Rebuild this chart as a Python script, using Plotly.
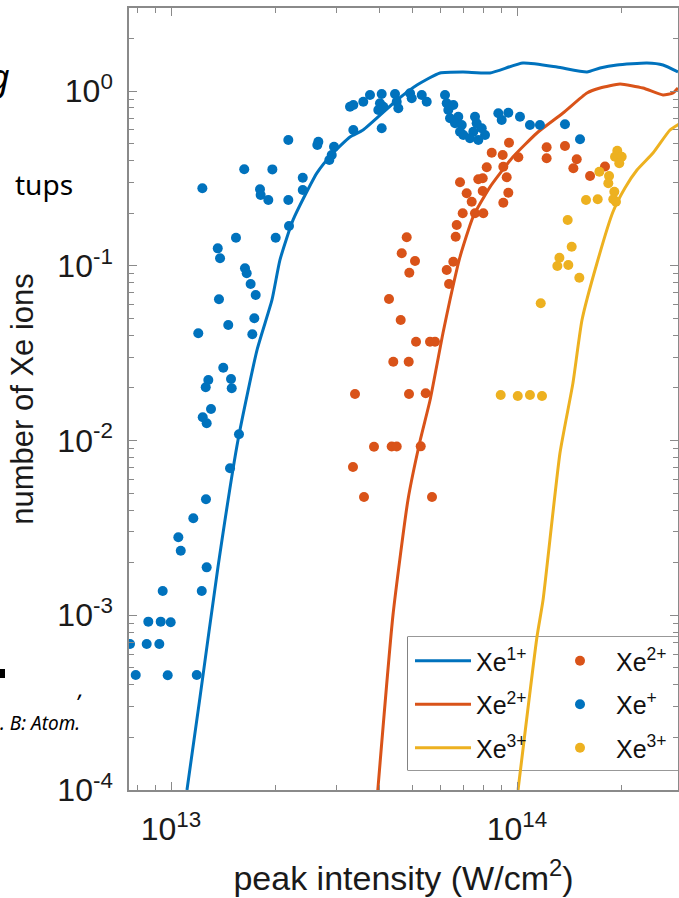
import plotly.graph_objects as go

# ---------------- data (intensity in units of 1e13 W/cm^2) ----------------
blue_line_I = [1.112, 1.213, 1.367, 1.562, 1.773, 1.958, 2.065, 2.253, 2.642, 2.94, 3.29, 3.59,
               4.50, 5.14, 5.99, 6.98, 8.35, 10.4, 13.05, 15.93, 17.38, 19.45, 23.75, 26.42, 29.19]
blue_line_N = [1.0e-4, 3.40e-4, 1.89e-3, 1.007e-2, 3.30e-2, 6.37e-2, 0.108, 0.183, 0.340, 0.442, 0.546, 0.598,
               0.888, 1.082, 1.268, 1.285, 1.268, 1.446, 1.372, 1.285, 1.354, 1.409, 1.446, 1.409, 1.285]

orange_line_I = [3.96, 4.38, 4.84, 5.245, 5.61, 6.11, 6.40, 6.84, 7.46, 8.35, 9.73, 11.42, 13.58,
                 15.93, 17.38, 19.85, 23.13, 26.42, 28.24, 29.19]
orange_line_N = [1.0e-4, 1.0e-3, 4.57e-3, 9.93e-3, 1.71e-2, 4.12e-2, 6.37e-2, 0.112, 0.190, 0.282, 0.419,
                 0.575, 0.748, 0.974, 1.040, 1.096, 1.040, 0.948, 0.974, 1.040]

yellow_line_I = [10.07, 11.42, 11.89, 13.31, 14.51, 15.41, 17.03, 18.93, 20.51, 22.22, 24.72, 27.68, 29.4]
yellow_line_N = [1.0e-4, 7.51e-4, 1.22e-3, 8.48e-3, 2.13e-2, 4.89e-2, 0.1037, 0.203, 0.2786, 0.353,
                 0.4417, 0.598, 0.647]

blue_pts_I = [1.232, 1.628, 1.963, 1.808, 1.816, 1.911, 2.183, 2.183, 2.403, 2.403, 2.193, 2.007, 1.541,
              1.365, 1.386, 1.636, 1.655, 1.699, 1.757, 1.376, 2.666, 2.648, 2.959, 2.914, 2.868, 3.291,
              3.365, 1.741, 1.464, 1.199, 1.718, 1.416, 1.282, 1.260, 1.491, 1.498, 1.305, 1.235, 1.268,
              1.572, 1.481, 1.262, 1.160, 1.050, 1.067, 1.268, 1.227, 0.9463, 0.8598, 0.9338, 0.998,
              0.7613, 0.8507, 0.9252, 0.7907, 0.9783, 1.187, 3.365, 3.759, 3.595, 4.064, 4.018, 4.108,
              3.973, 4.441, 4.491, 4.539, 4.907, 4.963, 5.305, 5.483, 4.064, 6.193, 6.264, 6.331, 6.545,
              6.766, 6.404, 6.620, 6.922, 7.561, 7.646, 7.907, 8.083, 7.476, 6.995, 6.844, 7.314, 7.729,
              8.831, 9.438, 9.032, 10.20, 10.90, 11.65, 13.76, 15.21]
blue_pts_N = [0.2774, 0.3563, 0.356, 0.2739, 0.2540, 0.2378, 0.5244, 0.2378, 0.3190, 0.2714, 0.1689,
              0.1447, 0.1447, 0.1258, 0.1103, 0.0967, 0.0905, 0.0786, 0.0680, 0.0643, 0.5128, 0.4909,
              0.4799, 0.4302, 0.4029, 0.8132, 0.5980, 0.05003, 0.04581, 0.04106, 0.04052, 0.02610,
              0.02219, 0.02015, 0.02248, 0.01989, 0.01515, 0.01358, 0.01254, 0.01085, 0.006934, 0.004609,
              0.003587, 0.002793, 0.002341, 0.001880, 0.001377, 0.001377, 0.000919, 0.000919, 0.000911,
              0.000685, 0.000685, 0.000685, 0.000455, 0.000454, 0.000455, 0.8317, 0.9487, 0.8685, 0.9613,
              0.8504, 0.8132, 0.7784, 0.9613, 0.8685, 0.7962, 0.9701, 0.9083, 0.9487, 0.8685, 0.6116,
              0.9487, 0.8504, 0.7784, 0.8317, 0.7127, 0.6980, 0.6533, 0.6389, 0.7127, 0.6533, 0.6116,
              0.5601, 0.5850, 0.5601, 0.5850, 0.5363, 0.5244, 0.7452, 0.7511, 0.6824, 0.7127, 0.6389,
              0.6389, 0.6449, 0.5292]

orange_pts_I = [9.482, 8.452, 9.092, 10.09, 8.175, 9.129, 6.844, 7.729, 7.960, 9.337, 7.960, 7.154, 7.397,
                9.438, 9.129, 6.967, 7.561, 7.991, 6.695, 6.650, 4.800, 4.643, 5.073, 4.884, 6.545, 6.264,
                6.362, 4.266, 4.612, 12.18, 12.18, 13.76, 14.88, 14.55, 16.26, 17.96, 5.107, 5.605, 5.794,
                4.390, 4.864, 3.402, 4.874, 5.446, 3.861, 4.343, 4.491, 5.269, 3.357, 3.612, 5.680]
orange_pts_N = [0.5060, 0.4434, 0.4302, 0.4174, 0.3660, 0.3688, 0.3003, 0.3125, 0.3166, 0.3208, 0.2678,
                0.2598, 0.2325, 0.2618, 0.2295, 0.1996, 0.1996, 0.1996, 0.1711, 0.1466, 0.1455, 0.1178,
                0.1065, 0.0912, 0.1055, 0.0945, 0.0786, 0.0645, 0.04893, 0.4762, 0.4120, 0.4843, 0.4066,
                0.3612, 0.3263, 0.3698, 0.03675, 0.03675, 0.03675, 0.02824, 0.02824, 0.01845, 0.01845,
                0.01862, 0.009216, 0.00925, 0.00925, 0.00926, 0.007055, 0.00475, 0.00475]

yellow_pts_I = [19.49, 19.20, 20.07, 19.75, 17.30, 18.45, 18.36, 19.11, 18.98, 19.32, 15.83, 17.11, 14.01,
                14.39, 13.26, 13.08, 14.07, 15.14, 11.71, 8.971, 10.05, 10.90, 11.81]
yellow_pts_N = [0.4553, 0.4207, 0.4207, 0.3858, 0.3452, 0.3263, 0.2963, 0.2653, 0.2400, 0.2325, 0.2378,
                0.2400, 0.1827, 0.1285, 0.1112, 0.0997, 0.1010, 0.0854, 0.0610, 0.01821, 0.01797, 0.01821,
                0.01797]

UNIT = 1e13
y_tickvals = [1e-4, 1e-3, 1e-2, 1e-1, 1e0]
y_ticktext = ["10<sup>-4</sup>", "10<sup>-3</sup>", "10<sup>-2</sup>", "10<sup>-1</sup>", "10<sup>0</sup>"]
x_tickvals = [1e13, 1e14]
x_ticktext = ["10<sup>13</sup>", "10<sup>14</sup>"]

BLUE = "#0072BD"
ORANGE = "#D95319"
YELLOW = "#EDB120"

W, H = 679, 898
L, R, T, B = 129, 678, 8, 790


def px(xp):
    return (xp - L) / (R - L)


def py(yp):
    return (B - yp) / (B - T)


fig = go.Figure()


def xs(v):
    return [a * UNIT for a in v]


# lines
for I, N, c, name, g in [(blue_line_I, blue_line_N, BLUE, "Xe<sup>1+</sup>", "l1"),
                         (orange_line_I, orange_line_N, ORANGE, "Xe<sup>2+</sup>", "l2"),
                         (yellow_line_I, yellow_line_N, YELLOW, "Xe<sup>3+</sup>", "l3")]:
    fig.add_trace(go.Scatter(x=xs(I), y=N, mode="lines", line=dict(color=c, width=3, shape="spline", smoothing=0.5),
                             name=name, legend="legend", legendgroup=g))

# points
for I, N, c, name, g in [(orange_pts_I, orange_pts_N, ORANGE, "Xe<sup>2+</sup>", "p1"),
                         (blue_pts_I, blue_pts_N, BLUE, "Xe<sup>+</sup>", "p2"),
                         (yellow_pts_I, yellow_pts_N, YELLOW, "Xe<sup>3+</sup>", "p3")]:
    fig.add_trace(go.Scatter(x=xs(I), y=N, mode="markers", marker=dict(color=c, size=10),
                             name=name, legend="legend2", legendgroup=g))

minor_y = [m * 10.0 ** k for k in range(-4, 1) for m in range(2, 10)]
minor_x = [8e12, 9e12] + [m * 1e13 for m in range(2, 10)] + [2e14]

axis_common = dict(showline=True, linecolor="#8a8a8a", linewidth=1.5, mirror="ticks", ticks="inside",
                   tickcolor="#8a8a8a", tickwidth=1.2, ticklen=8, showgrid=False, zeroline=False,
                   automargin=False,
                   tickfont=dict(family="Liberation Sans", size=32, color="#1a1a1a"))

fig.update_layout(
    width=W, height=H,
    margin=dict(l=L, r=W - R, t=T, b=H - B, autoexpand=False),
    paper_bgcolor="white", plot_bgcolor="white",
    font=dict(family="Liberation Sans", color="#1a1a1a"),
    xaxis=dict(type="log", range=[12.8786, 14.4653], tickvals=x_tickvals, ticktext=x_ticktext,
               minor=dict(tickvals=minor_x, ticks="inside", ticklen=5, tickcolor="#8a8a8a", tickwidth=1.2),
               ticklabelstandoff=10,
               title=dict(text="peak intensity (W/cm<sup>2</sup>)", font=dict(size=34, family="Liberation Sans"),
                          standoff=20),
               **axis_common),
    yaxis=dict(type="log", range=[-4, 0.475], tickvals=y_tickvals, ticktext=y_ticktext,
               minor=dict(tickvals=minor_y, ticks="inside", ticklen=5, tickcolor="#8a8a8a", tickwidth=1.2),
               ticklabelstandoff=8,
               title=dict(text="number of Xe ions", font=dict(size=31, family="Liberation Sans"), standoff=14),
               **axis_common),
    legend=dict(x=px(410), y=py(638), xanchor="left", yanchor="top", bgcolor="rgba(0,0,0,0)", borderwidth=0,
                font=dict(size=25, family="Liberation Sans", color="#111111"), itemwidth=56, tracegroupgap=8,
                traceorder="grouped"),
    legend2=dict(x=px(544), y=py(638), xanchor="left", yanchor="top", bgcolor="rgba(0,0,0,0)", borderwidth=0,
                 font=dict(size=25, family="Liberation Sans", color="#111111"), itemwidth=62, tracegroupgap=8,
                 traceorder="grouped"),
    showlegend=True,
)

# legend frame
fig.add_shape(type="rect", xref="paper", yref="paper", x0=px(408), x1=px(690), y0=py(770), y1=py(637),
              line=dict(color="#333333", width=1.2), fillcolor="rgba(255,255,255,0)", layer="below")
fig.add_shape(type="rect", xref="paper", yref="paper", x0=px(408), x1=px(690), y0=py(770), y1=py(637),
              line=dict(width=0), fillcolor="white", layer="below")

# slide fragments around the chart
fig.add_annotation(text="<i>g</i>", xref="paper", yref="paper", x=px(12), y=py(76), xanchor="right",
                   yanchor="middle", showarrow=False, font=dict(family="Noto Sans", size=36, color="black"))
fig.add_annotation(text="tups", xref="paper", yref="paper", x=px(13), y=py(184), xanchor="left",
                   yanchor="middle", showarrow=False, font=dict(family="Noto Sans", size=28, color="black"))
fig.add_shape(type="rect", xref="paper", yref="paper", x0=px(0), x1=px(5), y0=py(678), y1=py(669),
              line=dict(width=0), fillcolor="black")
fig.add_annotation(text="<i>,</i>", xref="paper", yref="paper", x=px(80), y=py(688), xanchor="center",
                   yanchor="middle", showarrow=False, font=dict(family="Noto Sans", size=22, color="black"))
fig.add_annotation(text="<i>. B: Atom.</i>", xref="paper", yref="paper", x=px(-2), y=py(723), xanchor="left",
                   yanchor="middle", showarrow=False, font=dict(family="Noto Sans", size=19, color="black"))

fig.write_html("out.html", config={"displayModeBar": False},
               post_script="document.body.style.margin='0';document.body.style.overflow='hidden';")
